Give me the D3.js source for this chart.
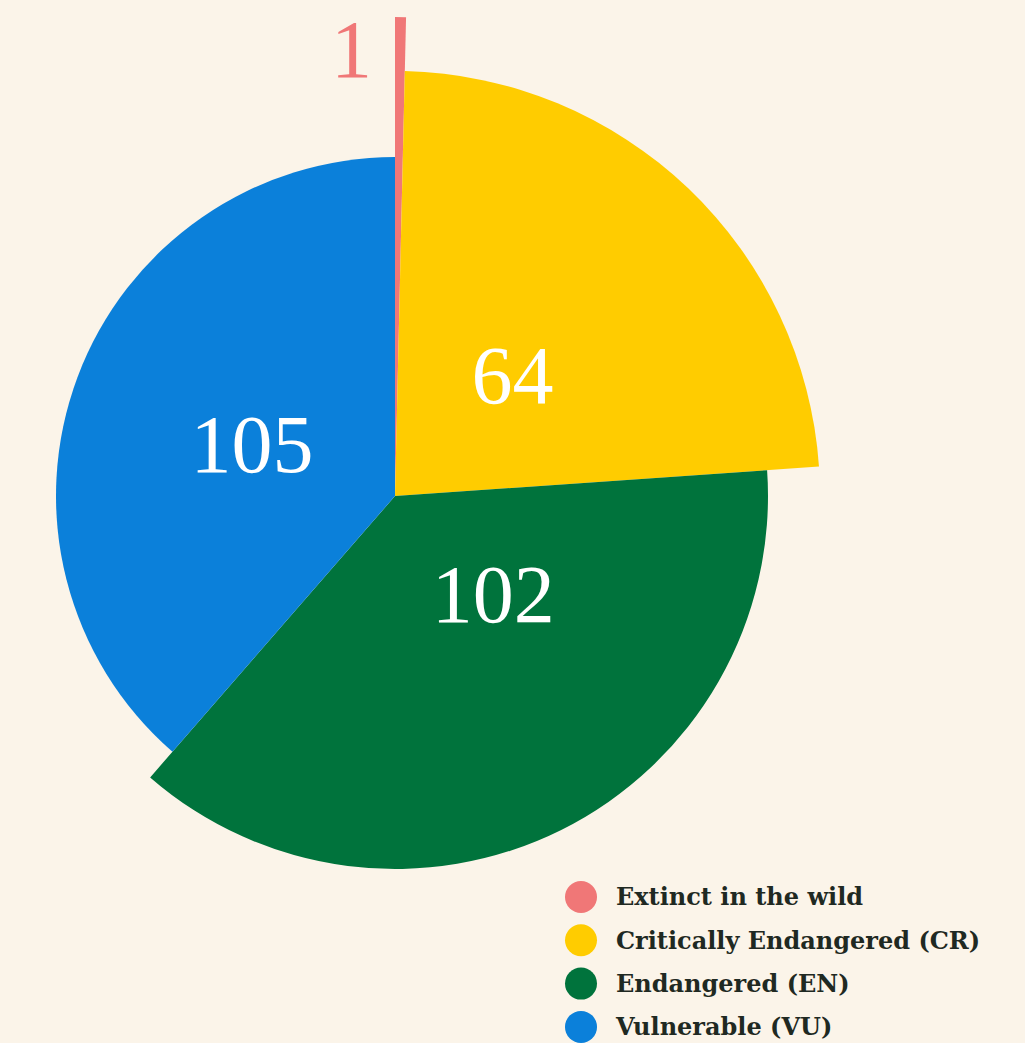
<!DOCTYPE html>
<html>
<head>
  <meta charset="UTF-8">
  <title>Threatened species</title>
  <style>
    html, body { margin: 0; padding: 0; background: #fbf4e9; }
    svg { display: block; }
  </style>
</head>
<body>
<svg id="chart" width="1025" height="1043"></svg>
<script src="https://d3js.org/d3.v7.min.js"></script>
<script>

    // Data
    var categories = ["Extinct in the wild", "Critically Endangered (CR)", "Endangered (EN)", "Vulnerable (VU)"];
    var counts = [1, 64, 102, 105];
    var colors = ["#f07777", "#ffcc00", "#00733c", "#0b80da"];

    // Layout
    var svg = d3.select("#chart"),
        cx = 395, cy = 496;

    // each slice has its own outer radius
    var radius = d3.scaleOrdinal().domain(categories).range([479, 425, 373, 339]);
    var color = d3.scaleOrdinal().domain(categories).range(colors);

    // where the number sits: t = fraction along the slice angle, k = fraction of its radius
    var labelT = [-4.2, 0.5, 0.36, 0.5],
        labelK = [0.94, 0.40, 0.37, 0.45];

    var rows = categories.map(function(c, i) { return { name: c, value: counts[i], i: i }; });

    var pie = d3.pie().sort(null).value(function(d) { return d.value; });
    var arcs = pie(rows);

    var arc = d3.arc()
        .innerRadius(0)
        .outerRadius(function(d) { return radius(d.data.name); });

    var g = svg.append("g").attr("transform", "translate(" + cx + "," + cy + ")");

    g.selectAll("path.slice")
        .data(arcs)
        .enter().append("path")
        .attr("class", "slice")
        .attr("d", arc)
        .attr("fill", function(d) { return color(d.data.name); });

    g.selectAll("text.value")
        .data(arcs)
        .enter().append("text")
        .attr("class", "value")
        .attr("transform", function(d) {
            var i = d.data.i;
            var a = d.startAngle + (d.endAngle - d.startAngle) * labelT[i];
            var r = radius(d.data.name) * labelK[i];
            return "translate(" + (r * Math.sin(a)) + "," + (-r * Math.cos(a)) + ")";
        })
        .attr("text-anchor", "middle")
        .attr("dy", "0.36em")
        .style("font-family", "'Liberation Serif', serif")
        .style("font-size", "82px")
        .attr("fill", function(d) { return d.data.i === 0 ? color(d.data.name) : "#ffffff"; })
        .text(function(d) { return d.data.value; });

    // Legend
    var legend = svg.append("g").attr("transform", "translate(581,897)");
    var ls_h = 43.3;

    var entry = legend.selectAll("g.entry")
        .data(categories)
        .enter().append("g")
        .attr("class", "entry")
        .attr("transform", function(d, i) { return "translate(0," + (i * ls_h) + ")"; });

    entry.append("circle")
        .attr("r", 16)
        .attr("fill", function(d) { return color(d); });

    entry.append("text")
        .attr("x", 35)
        .attr("dy", "0.35em")
        .style("font-family", "'DejaVu Serif', serif")
        .style("font-weight", "bold")
        .style("font-size", "24px")
        .attr("fill", "#1f2922")
        .text(function(d) { return d; });

</script>
</body>
</html>
